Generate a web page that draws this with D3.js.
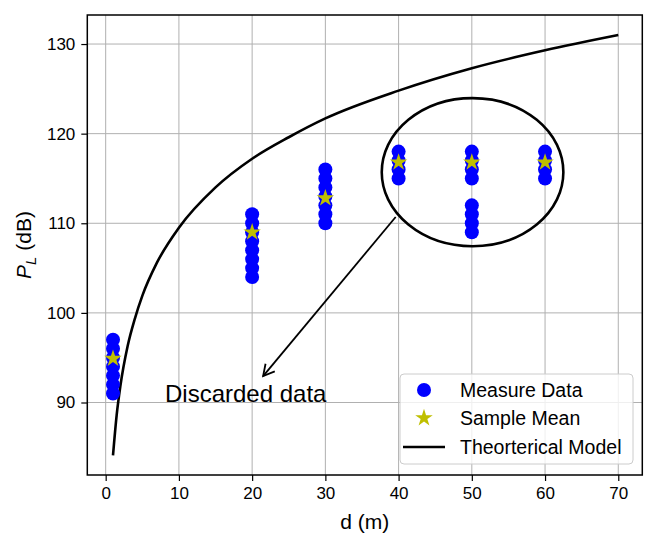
<!DOCTYPE html>
<html>
<head>
    <script src="https://d3js.org/d3.v7.min.js"></script>
    <style>
        body { margin: 0; background: #fff; }
        svg { font-family: "Liberation Sans", Arial, sans-serif; }
        .tick text { font-size: 17px; fill: #000; }
        .grid line { stroke: #b0b0b0; stroke-width: 1; }
    </style>
</head>
<body>
<svg id="chart" width="655" height="540"></svg>
<script>
    // Measured path loss per distance
    const measured = [
        {d: 1,  values: [91, 92, 93, 94, 95, 96, 97]},
        {d: 20, values: [104, 105, 106, 107, 108, 109, 110, 111]},
        {d: 30, values: [110, 111, 112, 113, 114, 115, 116]},
        {d: 40, values: [115, 116, 117, 118]},
        {d: 50, values: [109, 110, 111, 112, 115, 116, 117, 118]},
        {d: 60, values: [115, 116, 117, 118]}
    ];
    const meanD = [1, 20, 30, 40, 50, 60];
    const meanPL = [94.9, 109.0, 112.8, 116.8, 116.8, 116.8];

    // Theoretical model
    const modelD  = [1, 1.5, 2, 3, 4, 5, 7, 10, 15, 20, 25, 30, 40, 50, 60, 70];
    const modelPL = [84.1, 88.6, 91.8, 96.3, 99.4, 101.9, 105.6, 109.5, 114.0, 117.2, 119.6, 121.7, 124.8, 127.3, 129.3, 131.0];

    const xTicks = [0, 10, 20, 30, 40, 50, 60, 70];
    const yTicks = [90, 100, 110, 120, 130];

    const svg = d3.select('#chart');
    const mLeft = 87.3, mRight = 642.3, mTop = 15, mBottom = 475;

    const x = d3.scaleLinear().domain([-2.51, 73.28]).range([mLeft, mRight]);
    const y = d3.scaleLinear().domain([81.91, 133.24]).range([mBottom, mTop]);

    // grid
    svg.append('g').attr('class', 'grid')
        .selectAll('line').data(xTicks).join('line')
        .attr('x1', d => x(d)).attr('x2', d => x(d))
        .attr('y1', mTop).attr('y2', mBottom);
    svg.append('g').attr('class', 'grid')
        .selectAll('line').data(yTicks).join('line')
        .attr('y1', d => y(d)).attr('y2', d => y(d))
        .attr('x1', mLeft).attr('x2', mRight);

    // axes
    const xAxis = svg.append('g')
        .attr('transform', `translate(0,${mBottom})`)
        .call(d3.axisBottom(x).tickValues(xTicks).tickSize(6).tickPadding(6));
    const yAxis = svg.append('g')
        .attr('transform', `translate(${mLeft},0)`)
        .call(d3.axisLeft(y).tickValues(yTicks).tickSize(6).tickPadding(6));
    [xAxis, yAxis].forEach(a => {
        a.select('.domain').remove();
        a.selectAll('.tick line').attr('stroke', '#000').attr('stroke-width', 1.2);
    });

    // theoretical model
    const line = d3.line()
        .x((d, i) => x(modelD[i]))
        .y((d, i) => y(modelPL[i]))
        .curve(d3.curveMonotoneX);
    svg.append('path')
        .datum(modelD)
        .attr('d', line)
        .attr('fill', 'none')
        .attr('stroke', '#000')
        .attr('stroke-width', 2.6);

    // measured dots
    const pts = measured.flatMap(m => m.values.map(v => ({d: m.d, v: v})));
    svg.append('g')
        .selectAll('circle').data(pts).join('circle')
        .attr('cx', p => x(p.d))
        .attr('cy', p => y(p.v))
        .attr('r', 7)
        .attr('fill', '#0000ff');

    // sample mean stars
    const star = d3.symbol().type(d3.symbolStar).size(95);
    svg.append('g')
        .selectAll('path').data(meanD).join('path')
        .attr('d', star)
        .attr('transform', (d, i) => `translate(${x(d)},${y(meanPL[i])})`)
        .attr('fill', '#bfbf00');

    // ellipse around discarded data
    const ellC = {d: 50.1, pl: 115.7, rd: 12.4, rpl: 8.26};
    svg.append('ellipse')
        .attr('cx', x(ellC.d))
        .attr('cy', y(ellC.pl))
        .attr('rx', x(ellC.d + ellC.rd) - x(ellC.d))
        .attr('ry', y(ellC.pl - ellC.rpl) - y(ellC.pl))
        .attr('fill', 'none')
        .attr('stroke', '#000')
        .attr('stroke-width', 2.6);

    // arrow
    svg.append('defs').append('marker')
        .attr('id', 'head')
        .attr('viewBox', '-12 -7 14 14')
        .attr('markerWidth', 14).attr('markerHeight', 14)
        .attr('markerUnits', 'userSpaceOnUse')
        .attr('orient', 'auto')
        .append('path')
        .attr('d', 'M-11,-6 L0,0 L-11,6')
        .attr('fill', 'none')
        .attr('stroke', '#000')
        .attr('stroke-width', 1.8);
    svg.append('line')
        .attr('x1', x(39.6)).attr('y1', y(110.7))
        .attr('x2', x(21.5)).attr('y2', y(92.95))
        .attr('stroke', '#000')
        .attr('stroke-width', 1.8)
        .attr('marker-end', 'url(#head)');

    svg.append('text')
        .attr('x', x(8.1)).attr('y', y(90.1))
        .attr('font-size', 24)
        .text('Discarded data');

    // frame
    svg.append('rect')
        .attr('x', mLeft).attr('y', mTop)
        .attr('width', mRight - mLeft).attr('height', mBottom - mTop)
        .attr('fill', 'none').attr('stroke', '#000').attr('stroke-width', 1.5);

    // legend
    const lg = svg.append('g').attr('transform', 'translate(400,374)');
    lg.append('rect')
        .attr('width', 233).attr('height', 90).attr('rx', 4)
        .attr('fill', '#fff').attr('fill-opacity', 0.8)
        .attr('stroke', '#cccccc');
    const rows = ['Measure Data', 'Sample Mean', 'Theorterical Model'];
    const rowY = [16, 44, 73];
    lg.append('circle').attr('cx', 24).attr('cy', rowY[0]).attr('r', 7).attr('fill', '#0000ff');
    lg.append('path').attr('d', star).attr('transform', `translate(24,${rowY[1]})`).attr('fill', '#bfbf00');
    lg.append('line').attr('x1', 3).attr('x2', 45).attr('y1', rowY[2]).attr('y2', rowY[2])
        .attr('stroke', '#000').attr('stroke-width', 2.6);
    lg.selectAll('text.lab').data(rows).join('text')
        .attr('class', 'lab')
        .attr('x', 60)
        .attr('y', (d, i) => rowY[i])
        .attr('dy', '0.35em')
        .attr('font-size', 19.5)
        .text(d => d);

    // axis labels
    svg.append('text')
        .attr('x', (mLeft + mRight) / 2).attr('y', 529)
        .attr('text-anchor', 'middle')
        .attr('font-size', 21)
        .text('d (m)');
    const yl = svg.append('text')
        .attr('transform', `translate(31,${(mTop + mBottom) / 2}) rotate(-90)`)
        .attr('text-anchor', 'middle')
        .attr('font-size', 21);
    yl.append('tspan').attr('font-style', 'italic').text('P');
    yl.append('tspan').attr('font-style', 'italic').attr('font-size', 15).attr('dy', 5).text('L');
    yl.append('tspan').attr('dy', -5).text(' (dB)');
</script>
</body>
</html>
